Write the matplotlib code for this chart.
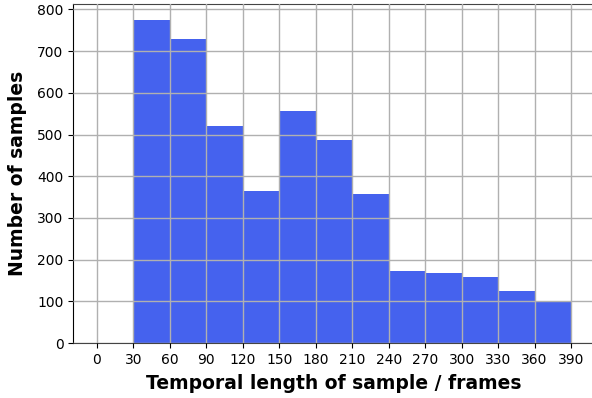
import numpy as np
import matplotlib
matplotlib.use("Agg")
import matplotlib.pyplot as plt

# bin edges (frames) and counts per bin
bin_edges = [30, 60, 90, 120, 150, 180, 210, 240, 270, 300, 330, 360, 390]
counts = [774, 729, 521, 364, 557, 487, 357, 174, 167, 159, 125, 100]
xticks = list(range(0, 391, 30))

fig = plt.figure(figsize=(5.92, 3.98), dpi=100)
ax = fig.add_axes([0.1238, 0.138, 0.8808, 0.852])

ax.hist(bin_edges[:-1], bins=bin_edges, weights=counts, color="#4562ee", zorder=1)
ax.set_axisbelow(False)
ax.grid(True, color="#b0b0b0", linewidth=1.0, zorder=2)

ax.set_xticks(xticks)
ax.set_xlim(-19.5, 409.5)
ax.set_ylim(0, 813)
ax.tick_params(labelsize=10)
ax.set_xlabel("Temporal length of sample / frames", fontsize=13.5, fontweight="bold", labelpad=5.5)
ax.set_ylabel("Number of samples", fontsize=13.5, fontweight="bold", labelpad=7.5)
for s in ["top", "bottom"]:
    ax.spines[s].set_color("#444444")

fig.savefig("out.png", dpi=100)
